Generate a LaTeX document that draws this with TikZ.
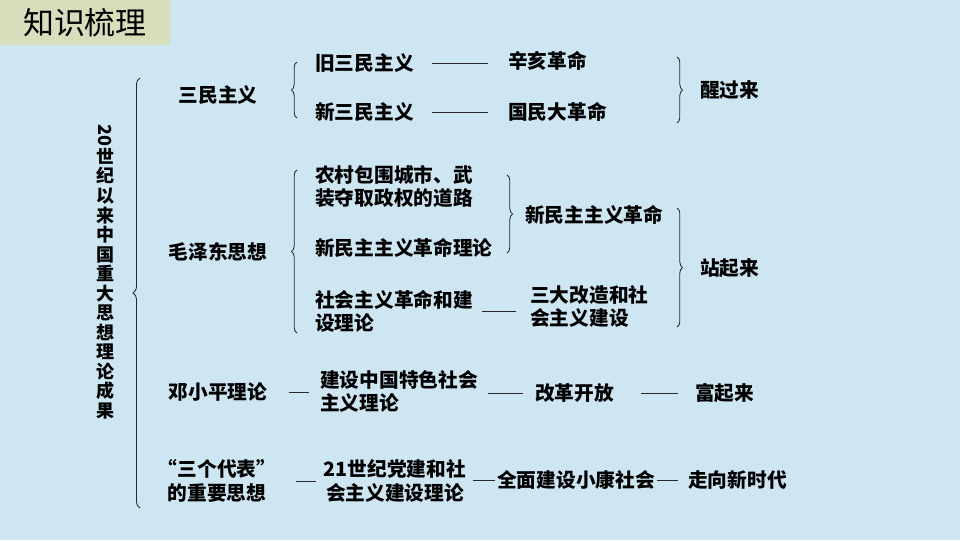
\documentclass[tikz,border=0pt]{standalone}
\usepackage{fontspec}
\setmainfont{Noto Sans CJK SC}
\usetikzlibrary{decorations.pathreplacing}
\definecolor{kbgblue}{RGB}{205,230,242}
\definecolor{ktitle}{RGB}{214,222,188}
\definecolor{kline}{RGB}{40,40,40}

\begin{document}
\begin{tikzpicture}[x=0.025cm, y=-0.025cm,
    item/.style={inner sep=0pt, font=\bfseries\fontsize{14pt}{16.5pt}\selectfont, align=left},
    head/.style={item, align=center},
    link/.style={kline, line width=0.7pt},
    grp/.style={kline, line width=0.6pt, decorate, decoration={brace, amplitude=#1}},
    grp/.default=4pt]

% Background and title
\fill[kbgblue] (0,0) rectangle (960,540);
\fill[ktitle] (0,0) rectangle (170,45);
\node[inner sep=0pt, font=\fontsize{22pt}{22pt}\selectfont] (title) at (85,23) {知识梳理};

% Vertical heading
\node[head, font=\bfseries\fontsize{12.8pt}{13.9pt}\selectfont] (topic) at (105,272)
  {\rotatebox[origin=c]{-90}{20}\\世\\纪\\以\\来\\中\\国\\重\\大\\思\\想\\理\\论\\成\\果};
\draw[grp=5pt] (140,508) -- (140,78);

% Main ideas
\node[head] (sanmin) at (218,95) {三民主义};
\node[head] (mao) at (218,252) {毛泽东思想};
\node[head] (deng) at (218,392) {邓小平理论};
\node[head] (sange) at (217,481) {“三个代表”\\的重要思想};

% Sanmin branch
\draw[grp] (297,118) -- (297,62);
\node[item, anchor=west] (oldsm) at (315,63) {旧三民主义};
\node[item, anchor=west] (newsm) at (315,112) {新三民主义};
\node[item, anchor=west] (xinhai) at (508,61) {辛亥革命};
\node[item, anchor=west] (guomin) at (508,112) {国民大革命};
\draw[grp] (677,57) -- (677,123);
\node[item, anchor=west] (wake) at (700,90) {醒过来};

\draw[link, shorten <=0.45cm, shorten >=0.5cm] (oldsm.east) -- (oldsm.east -| xinhai.west);
\draw[link, shorten <=0.45cm, shorten >=0.5cm] (newsm.east) -- (guomin.west);

% Mao branch
\draw[grp] (297,333) -- (297,170);
\node[item, anchor=west] (nongcun) at (315,186.5) {农村包围城市、武\\装夺取政权的道路};
\node[item, anchor=west] (xinlilun) at (315,248) {新民主主义革命理论};
\node[item, anchor=west] (shehui) at (315,311.5) {社会主义革命和建\\设理论};
\draw[grp] (507,175) -- (507,253);
\node[item, anchor=west] (xinminzhu) at (525,215) {新民主主义革命};
\node[item, anchor=west] (sanda) at (530,306.5) {三大改造和社\\会主义建设};
\draw[grp] (677,208) -- (677,327);
\node[item, anchor=west] (standup) at (700,268) {站起来};

\draw[link, shorten <=0.225cm, shorten >=0.35cm] (shehui.east) -- (shehui.east -| sanda.west);

% Deng branch
\node[item, anchor=west] (jianshe) at (320,391.5) {建设中国特色社会\\主义理论};
\node[item, anchor=west] (gaige) at (535,393) {改革开放};
\node[item, anchor=west] (rich) at (695,393) {富起来};

\draw[link, shorten <=0.525cm, shorten >=0.275cm] (deng.east) -- (deng.east -| jianshe.west);
\draw[link, shorten <=0.25cm, shorten >=0.3cm] (jianshe.east |- gaige.west) -- (gaige.west);
\draw[link, shorten <=0.675cm, shorten >=0.425cm] (gaige.east) -- (rich.west);

% Three Represents branch
\node[head] (dangjian) at (395,481) {21世纪党建和社\\会主义建设理论};
\node[item, anchor=west] (quanmian) at (497,480) {全面建设小康社会};
\node[item, anchor=west] (newera) at (688,480) {走向新时代};

\draw[link, shorten <=0.5cm, shorten >=0.2cm] (sange.east) -- (sange.east -| dangjian.west);
\draw[link, shorten <=0.175cm, shorten >=0.05cm] (dangjian.east |- quanmian.west) -- (quanmian.west);
\draw[link, shorten <=0.05cm, shorten >=0.25cm] (quanmian.east) -- (newera.west);
\end{tikzpicture}
\end{document}
